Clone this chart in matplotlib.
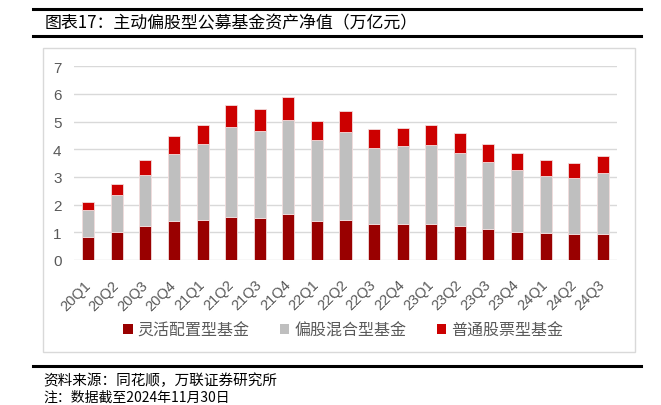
import matplotlib
matplotlib.use("Agg")
import matplotlib.pyplot as plt
from matplotlib.patches import Patch, Rectangle
from matplotlib.lines import Line2D
import numpy as np

plt.rcParams['font.family'] = ['Noto Sans CJK SC', 'DejaVu Sans']

quarters = ["20Q1", "20Q2", "20Q3", "20Q4", "21Q1", "21Q2", "21Q3", "21Q4",
            "22Q1", "22Q2", "22Q3", "22Q4", "23Q1", "23Q2", "23Q3", "23Q4",
            "24Q1", "24Q2", "24Q3"]
# cumulative tops
flexible = [0.84, 1.02, 1.23, 1.42, 1.45, 1.55, 1.53, 1.67, 1.42, 1.46, 1.31,
            1.29, 1.31, 1.22, 1.11, 1.02, 0.96, 0.93, 0.95]
mixed_top = [1.81, 2.34, 3.08, 3.82, 4.18, 4.82, 4.67, 5.05, 4.34, 4.63, 4.06,
             4.11, 4.16, 3.87, 3.53, 3.25, 3.05, 2.95, 3.16]
total_top = [2.10, 2.73, 3.60, 4.47, 4.88, 5.61, 5.47, 5.88, 5.02, 5.39, 4.72,
             4.77, 4.87, 4.58, 4.19, 3.87, 3.63, 3.49, 3.76]
mixed = [m - f for m, f in zip(mixed_top, flexible)]
stock = [t - m for t, m in zip(total_top, mixed_top)]

series_names = ["灵活配置型基金", "偏股混合型基金", "普通股票型基金"]
colors = ["#990000", "#BFBFBF", "#CC0000"]
yticks = [0, 1, 2, 3, 4, 5, 6, 7]

W, H = 661, 406
fig = plt.figure(figsize=(W / 100, H / 100), dpi=100)

def fx(px):
    return px / W

def fy(py):
    return 1 - py / H

# outer lines and title
fig.add_artist(Line2D([fx(33), fx(641)], [fy(10), fy(10)], color='black', lw=2.2))
fig.add_artist(Line2D([fx(33), fx(641)], [fy(37), fy(37)], color='black', lw=2.2))
fig.add_artist(Line2D([fx(33), fx(641)], [fy(367), fy(367)], color='black', lw=2.2))
fig.text(fx(45), fy(23), "图表17：主动偏股型公募基金资产净值（万亿元）", fontsize=12.2,
         ha='left', va='center', color='black')
fig.text(fx(43), fy(381), "资料来源：同花顺，万联证券研究所", fontsize=10.5,
         ha='left', va='center', color='black', style='italic')
fig.text(fx(43), fy(398), "注：数据截至2024年11月30日", fontsize=10,
         ha='left', va='center', color='black', style='italic')

# chart box
fig.add_artist(Rectangle((fx(43), fy(353)), fx(635) - fx(43), fy(49) - fy(353),
                         transform=fig.transFigure, fill=False,
                         edgecolor='#D9D9D9', lw=1))

ax = fig.add_axes([fx(74), fy(261), fx(617) - fx(74), fy(67.3) - fy(261)])
x = np.arange(len(quarters))
bw = 0.42
ax.bar(x, flexible, bw, color=colors[0], edgecolor='#F2DCDC', lw=0.6, zorder=3)
ax.bar(x, mixed, bw, bottom=flexible, color=colors[1], edgecolor='#F2DCDC', lw=0.6, zorder=3)
ax.bar(x, stock, bw, bottom=mixed_top, color=colors[2], edgecolor='#F2DCDC', lw=0.6, zorder=3)

ax.set_xlim(-0.5, len(quarters) - 0.5)
ax.set_ylim(0, 7)
ax.set_yticks(yticks)
ax.set_yticklabels([str(v) for v in yticks], family=['Liberation Sans'], fontsize=11,
                   color='#595959')
ax.yaxis.grid(True, color='#D9D9D9', lw=1, zorder=0)
ax.set_axisbelow(True)
for s in ax.spines.values():
    s.set_visible(False)
ax.tick_params(axis='y', length=0, pad=9)
ax.tick_params(axis='x', length=0, pad=16)
ax.set_xticks(x)
ax.set_xticklabels(quarters, rotation=45, ha='right', va='center',
                   rotation_mode='anchor', family=['Liberation Sans'],
                   fontsize=10.5, color='#595959')

handles = [Patch(facecolor=c, edgecolor='none') for c in colors]
fig.legend(handles, series_names, loc='center', bbox_to_anchor=(fx(343), fy(331)),
           ncol=3, frameon=False, fontsize=11.5, labelcolor='#595959',
           handlelength=0.6, handleheight=0.6, handletextpad=0.3,
           columnspacing=1.9)

fig.savefig("out.png", dpi=100)
